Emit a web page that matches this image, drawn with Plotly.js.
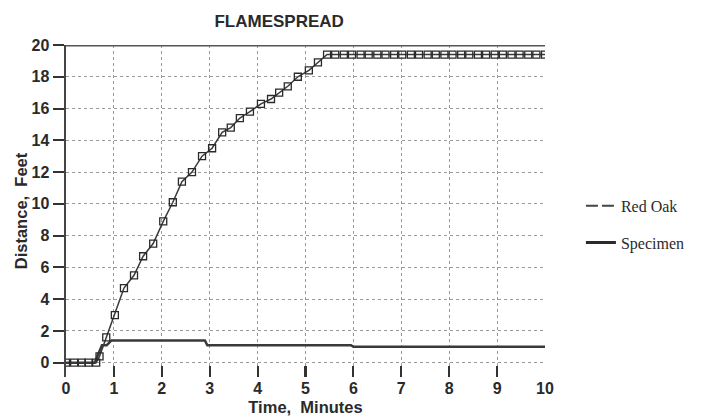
<!DOCTYPE html>
<html>
<head>
<meta charset="utf-8">
<script src="https://cdn.plot.ly/plotly-3.0.1.min.js"></script>
<style>html,body{margin:0;padding:0;background:#fff;}#chart{width:709px;height:420px;}</style>
</head>
<body>
<div id="chart"></div>
<script>
// Red Oak (calibration) flame front, time in minutes, distance in feet
const redOakTime = [0, 0.17, 0.33, 0.47, 0.63, 0.7, 0.84, 1.02, 1.21, 1.42, 1.61, 1.82, 2.03, 2.23, 2.42, 2.63, 2.84, 3.05, 3.26, 3.44, 3.63, 3.84, 4.07, 4.28, 4.45, 4.63, 4.84, 5.07, 5.26, 5.45,
  5.62, 5.8, 5.97, 6.15, 6.32, 6.5, 6.67, 6.85, 7.02, 7.2, 7.37, 7.55, 7.72, 7.9, 8.07, 8.25, 8.42, 8.6, 8.77, 8.95, 9.12, 9.3, 9.47, 9.65, 9.82, 10.0];
const redOakDist = [0, 0, 0, 0, 0, 0.4, 1.6, 3.0, 4.7, 5.5, 6.7, 7.5, 8.9, 10.1, 11.4, 12.0, 13.0, 13.5, 14.5, 14.8, 15.4, 15.8, 16.3, 16.6, 17.0, 17.4, 18.0, 18.4, 18.9, 19.4,
  19.4, 19.4, 19.4, 19.4, 19.4, 19.4, 19.4, 19.4, 19.4, 19.4, 19.4, 19.4, 19.4, 19.4, 19.4, 19.4, 19.4, 19.4, 19.4, 19.4, 19.4, 19.4, 19.4, 19.4, 19.4, 19.4];
// Specimen flame front
const specTime = [0, 0.6, 0.75, 0.85, 0.95, 2.9, 2.95, 5.95, 6.0, 10.0];
const specDist = [0, 0, 1.1, 1.1, 1.4, 1.4, 1.1, 1.1, 1.0, 1.0];
// Axis ticks
const xTicks = [0, 1, 2, 3, 4, 5, 6, 7, 8, 9, 10];
const yTicks = [0, 2, 4, 6, 8, 10, 12, 14, 16, 18, 20];
const seriesNames = ["Red Oak", "Specimen"];

const ink = '#2a2a2a';
const gridCol = '#9a9a9a';
const sans = 'Liberation Sans, Arial, sans-serif';

const traces = [
  {x: specTime, y: specDist, mode: 'lines', line: {color: '#3a3a3a', width: 2.5}, showlegend: false, hoverinfo: 'skip'},
  {x: redOakTime, y: redOakDist, mode: 'lines+markers', line: {color: '#3a3a3a', width: 1.5},
   marker: {symbol: 'square-open', size: 7, color: '#2a2a2a', line: {width: 1.3}}, showlegend: false},
  {x: [null], y: [null], mode: 'lines', name: seriesNames[0], line: {color: '#444', width: 2, dash: '12px,4px'}, legendgroup: 'a'},
  {x: [null], y: [null], mode: 'lines', name: seriesNames[1], line: {color: '#2a2a2a', width: 3}, legendgroup: 'b'}
];

const layout = {
  width: 709, height: 420,
  margin: {l: 66, r: 164, t: 45, b: 43},
  paper_bgcolor: '#ffffff', plot_bgcolor: '#ffffff',
  title: {text: '<b>FLAMESPREAD</b>', x: 0.445, xref: 'paper', xanchor: 'center', y: 0.951, yanchor: 'middle',
          font: {family: sans, size: 17, color: ink}},
  xaxis: {
    range: [0, 10], tickvals: xTicks, ticktext: xTicks.map(String),
    showgrid: true, gridcolor: gridCol, griddash: 'dot', gridwidth: 1,
    showline: false, zeroline: false,
    ticks: 'inside', ticklen: 11, tickwidth: 2.2, tickcolor: '#333',
    tickfont: {family: sans, size: 16, color: ink, weight: 'bold'},
    title: {text: '<b>Time,  Minutes</b>', standoff: 5, font: {family: sans, size: 16.5, color: ink}}
  },
  yaxis: {
    range: [-0.9, 20], tickvals: yTicks, ticktext: yTicks.map(String),
    showgrid: true, gridcolor: gridCol, griddash: 'dot', gridwidth: 1,
    showline: true, linecolor: '#444', linewidth: 2.5, zeroline: false,
    ticks: 'outside', ticklen: 11, tickwidth: 2, tickcolor: '#333',
    tickfont: {family: sans, size: 16, color: ink, weight: 'bold'},
    title: {text: '<b>Distance,  Feet</b>', standoff: 0, font: {family: sans, size: 16.5, color: ink}}
  },
  shapes: [
    {type: 'line', xref: 'x', yref: 'y', x0: 0, x1: 10, y0: 20, y1: 20, line: {color: '#555', width: 3}}
  ],
  legend: {x: 1.075, xanchor: 'left', y: 0.567, yanchor: 'top', bgcolor: 'rgba(0,0,0,0)',
           traceorder: 'grouped', tracegroupgap: 13,
           font: {family: 'Liberation Serif, Times New Roman, serif', size: 16, color: ink}},
  showlegend: true
};

Plotly.newPlot('chart', traces, layout, {displayModeBar: false, staticPlot: true});
</script>
</body>
</html>
